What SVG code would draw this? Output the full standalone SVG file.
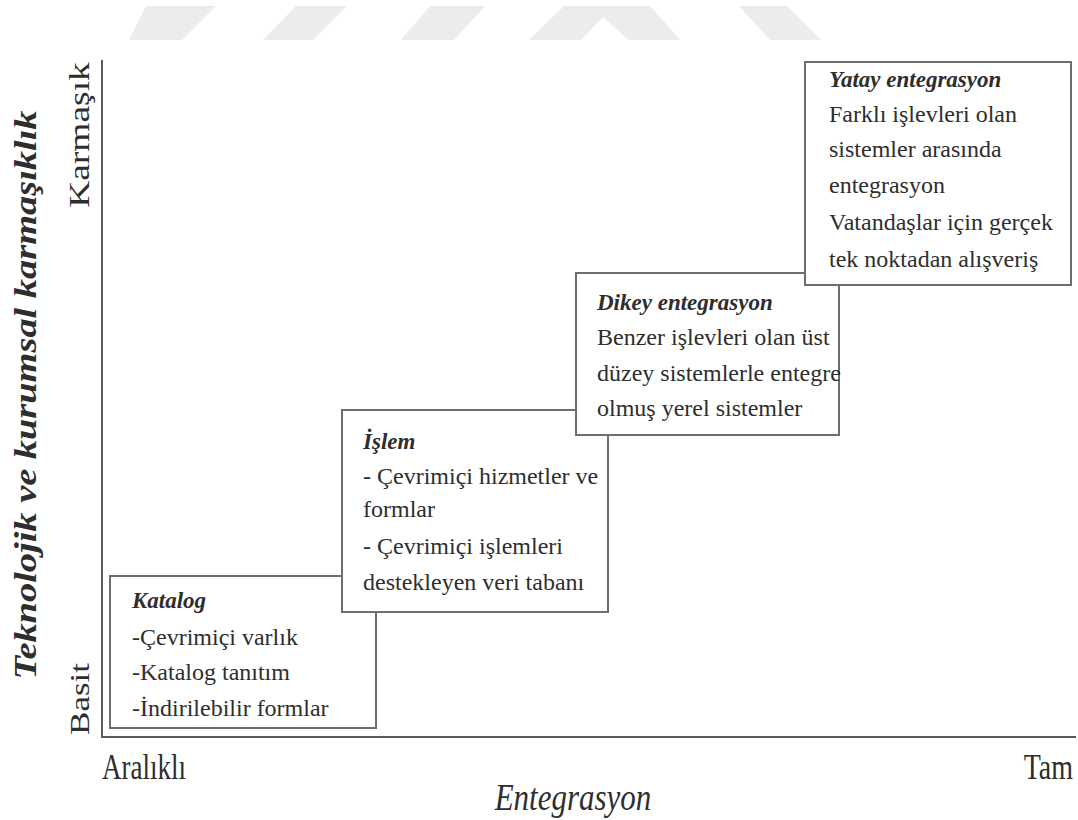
<svg xmlns="http://www.w3.org/2000/svg" width="1078" height="820" viewBox="0 0 1078 820">
  <style>
    .wm { fill: #ececec; }
    .box { fill: #ffffff; stroke: #6e6e6e; stroke-width: 2; }
    .axis { stroke: #5a5a5a; stroke-width: 2; fill: none; }
    text { font-family: "Liberation Serif", "Times New Roman", "DejaVu Serif", serif; fill: #2e2e2e; }
    .bd { font-size: 24px; font-style: normal; font-weight: normal; }
    .tt { font-size: 23px; font-style: italic; font-weight: bold; }
  </style>
  <rect width="1078" height="820" fill="#ffffff"/>
  <g id="watermark">
    <polygon class="wm" points="146,6 216,6 182,40 129,40"/>
    <polygon class="wm" points="296,6 347,6 313,40 263,40"/>
    <polygon class="wm" points="430,6 485,6 454,40 401,40"/>
    <polygon class="wm" points="564,6 650,6 680,40 629,40 603,17 581,40 529,40"/>
    <polygon class="wm" points="739,6 787,6 821,40 770,40"/>
  </g>
  <g id="axes">
    <polyline class="axis" points="102,60 102,737 1076,737"/>
  </g>
  <g id="axis-labels" font-family="Liberation Serif, serif">
    <text font-size="32" font-style="italic" font-weight="bold" text-anchor="middle" transform="translate(36,395) rotate(-90) scale(1.2,1)">Teknolojik ve kurumsal karmaşıklık</text>
    <text font-size="30" text-anchor="middle" transform="translate(89,135) rotate(-90) scale(1.25,1)">Karmaşık</text>
    <text font-size="28" text-anchor="middle" transform="translate(89,699) rotate(-90) scale(1.25,1)">Basit</text>
    <text font-size="27" transform="translate(102,779) scale(1,1.3)">Aralıklı</text>
    <text font-size="28" text-anchor="end" transform="translate(1073,779) scale(1,1.3)">Tam</text>
    <text font-size="31" font-style="italic" text-anchor="middle" transform="translate(573,810) scale(1,1.25)">Entegrasyon</text>
  </g>
  <g id="katalog">
    <rect class="box" x="110" y="576" width="266" height="152"/>
    <text class="tt" x="132" y="608">Katalog</text>
    <text class="bd" x="132" y="645">-Çevrimiçi varlık</text>
    <text class="bd" x="132" y="680">-Katalog tanıtım</text>
    <text class="bd" x="132" y="716">-İndirilebilir formlar</text>
  </g>
  <g id="islem">
    <rect class="box" x="342" y="410" width="266" height="202"/>
    <text class="tt" x="363" y="449">İşlem</text>
    <text class="bd" x="363" y="484">- Çevrimiçi hizmetler ve</text>
    <text class="bd" x="363" y="517">formlar</text>
    <text class="bd" x="363" y="554">- Çevrimiçi işlemleri</text>
    <text class="bd" x="363" y="590">destekleyen veri tabanı</text>
  </g>
  <g id="dikey">
    <rect class="box" x="576" y="273" width="263" height="162"/>
    <text class="tt" x="597" y="310">Dikey entegrasyon</text>
    <text class="bd" x="597" y="345">Benzer işlevleri olan üst</text>
    <text class="bd" x="597" y="381">düzey sistemlerle entegre</text>
    <text class="bd" x="597" y="416">olmuş yerel sistemler</text>
  </g>
  <g id="yatay">
    <rect class="box" x="805" y="62" width="266" height="223"/>
    <text class="tt" x="829" y="87">Yatay entegrasyon</text>
    <text class="bd" x="829" y="122">Farklı işlevleri olan</text>
    <text class="bd" x="829" y="157">sistemler arasında</text>
    <text class="bd" x="829" y="193">entegrasyon</text>
    <text class="bd" x="829" y="230">Vatandaşlar için gerçek</text>
    <text class="bd" x="829" y="267">tek noktadan alışveriş</text>
  </g>
</svg>
